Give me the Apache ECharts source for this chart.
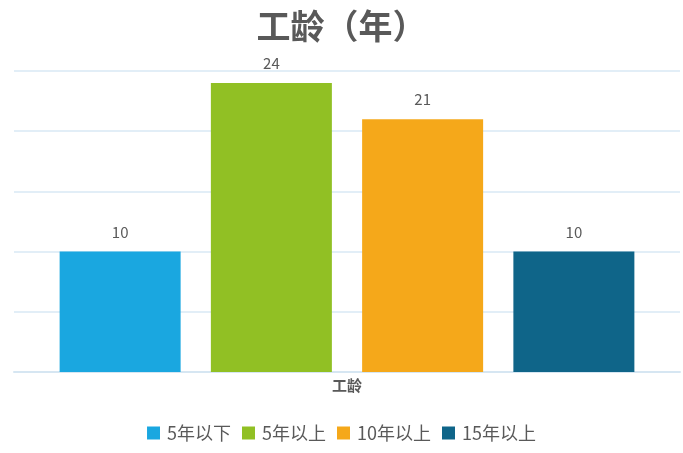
<!DOCTYPE html>
<html>
<head>
<meta charset="utf-8">
<script src="https://cdn.jsdelivr.net/npm/echarts@6/dist/echarts.min.js"></script>
<style>
html,body{margin:0;padding:0;background:#fff;}
#c{width:683px;height:453px;}
</style>
</head>
<body>
<div id="c"></div>
<script>
var titleText = '工龄（年）';
var categories = ['工龄'];
var seriesNames = ['5年以下', '5年以上', '10年以上', '15年以上'];
var seriesValues = [[10], [24], [21], [10]];
var colors = ['#1aa7e0', '#91c024', '#f5a81a', '#0f6589'];

var chart = echarts.init(document.getElementById('c'));
var font = '"Noto Sans CJK SC", "Liberation Sans", sans-serif';
var series = seriesNames.map(function (n, i) {
  return {
    name: n,
    type: 'bar',
    data: seriesValues[i],
    barWidth: 121,
    barGap: '25%',
    itemStyle: { color: colors[i] },
    label: {
      show: true,
      position: 'top',
      distance: 12,
      color: '#595959',
      fontSize: 15,
      fontFamily: font
    }
  };
});
chart.setOption({
  animation: false,
  textStyle: { fontFamily: font },
  title: {
    text: titleText,
    left: 'center',
    top: 4,
    textStyle: { fontSize: 34, fontWeight: 'bold', color: '#595959', fontFamily: font }
  },
  legend: {
    data: seriesNames,
    bottom: 6,
    left: 'center',
    itemWidth: 13,
    itemHeight: 13,
    itemGap: 11,
    icon: 'rect',
    textStyle: { fontSize: 18, color: '#595959', fontFamily: font, padding: [0, 0, 0, 2] }
  },
  grid: { left: 14, right: 3, top: 71, bottom: 81, containLabel: false },
  xAxis: {
    type: 'category',
    data: categories,
    axisLine: { show: true, lineStyle: { color: '#d6e6f2', width: 2 } },
    axisTick: { show: false },
    axisLabel: { color: '#595959', fontSize: 15, fontWeight: 'bold', margin: 6, fontFamily: font }
  },
  yAxis: {
    type: 'value',
    min: 0,
    max: 25,
    interval: 5,
    axisLabel: { show: false },
    axisLine: { show: false },
    axisTick: { show: false },
    splitLine: { lineStyle: { color: '#d9e9f4', width: 1.5 } }
  },
  series: series
});
</script>
</body>
</html>
